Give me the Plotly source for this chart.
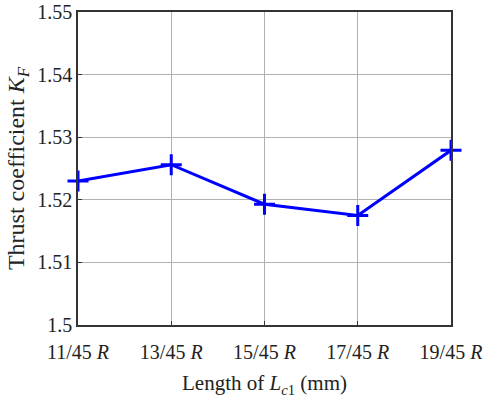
import plotly.graph_objects as go

categories = ["11/45 <i>R</i>", "13/45 <i>R</i>", "15/45 <i>R</i>", "17/45 <i>R</i>", "19/45 <i>R</i>"]
kf_values = [1.5230, 1.5256, 1.5193, 1.5175, 1.5279]
y_ticks = [1.5, 1.51, 1.52, 1.53, 1.54, 1.55]
y_ticktext = ["1.5", "1.51", "1.52", "1.53", "1.54", "1.55"]

x_idx = list(range(len(categories)))
font_family = "Liberation Serif, Times New Roman, serif"

fig = go.Figure()
fig.add_trace(go.Scatter(
    x=x_idx, y=kf_values, mode="lines+markers",
    line=dict(color="#0000ff", width=3),
    marker=dict(symbol="cross-thin", size=15, color="#0000ff",
                line=dict(color="#0000ff", width=3)),
    cliponaxis=False, showlegend=False,
))

fig.update_layout(
    width=489, height=403,
    margin=dict(l=78, r=38, t=12, b=78),
    paper_bgcolor="white", plot_bgcolor="white",
    font=dict(family=font_family, size=20, color="#222222"),
    xaxis=dict(
        range=[0, 4], tickvals=x_idx, ticktext=categories,
        automargin=False,
        showgrid=True, gridcolor="#b0b0b0", gridwidth=1,
        showline=True, linecolor="#333333", linewidth=1.5, mirror=True,
        ticks="inside", ticklen=4, tickcolor="#333333",
        ticklabelstandoff=8,
        zeroline=False,
        tickfont=dict(size=20, family=font_family, color="#222222"),
        title=dict(text="Length of <i>L</i><sub><i>c</i>1</sub> (mm)",
                   standoff=14, font=dict(size=21, family=font_family)),
    ),
    yaxis=dict(
        range=[1.5, 1.55], tickvals=y_ticks, ticktext=y_ticktext,
        automargin=False,
        showgrid=True, gridcolor="#b0b0b0", gridwidth=1,
        showline=True, linecolor="#333333", linewidth=1.5, mirror=True,
        ticks="inside", ticklen=4, tickcolor="#333333",
        zeroline=False,
        tickfont=dict(size=20, family=font_family, color="#222222"),
        title=dict(text="Thrust coefficient <i>K<sub>F</sub></i>",
                   standoff=6, font=dict(size=24, family=font_family)),
    ),
)

fig.write_html("out.html")
